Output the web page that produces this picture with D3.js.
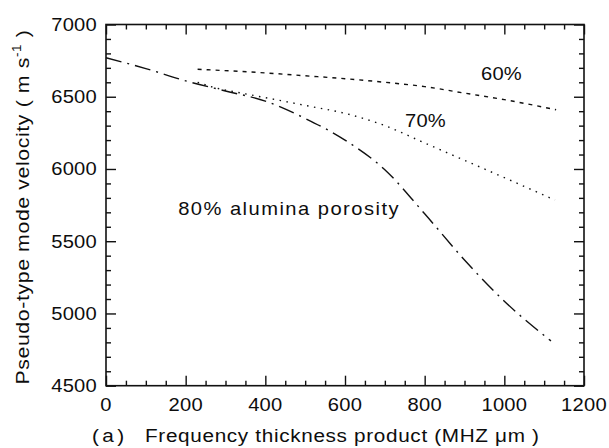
<!DOCTYPE html>
<html>
<head>
<meta charset="utf-8">
<script src="https://cdn.jsdelivr.net/npm/d3@7"></script>
<style>
  html, body { margin: 0; padding: 0; background: #fff; }
  svg text { font-family: "Liberation Sans", Arial, Helvetica, sans-serif; fill: #0d0d0d; }
</style>
</head>
<body>
<svg id="chart" width="609" height="448"></svg>
<script>
// Pseudo-type mode velocity vs frequency-thickness product, three porosities
const xTicks = [0, 200, 400, 600, 800, 1000, 1200];
const yTicks = [4500, 5000, 5500, 6000, 6500, 7000];

const fd60 = [230, 400, 500, 600, 700, 800, 900, 1000, 1130];
const v60  = [6690, 6665, 6645, 6625, 6600, 6570, 6525, 6480, 6410];

const fd70 = [230, 270, 350, 430, 500, 600, 700, 800, 900, 1000, 1127];
const v70  = [6600, 6565, 6520, 6478, 6440, 6385, 6300, 6180, 6060, 5940, 5785];

const fd80 = [0, 100, 200, 300, 400, 500, 600, 700, 800, 900, 1000, 1117];
const v80  = [6770, 6695, 6610, 6540, 6470, 6350, 6200, 5995, 5690, 5370, 5085, 4810];

const seriesLabels = ["60%", "70%", "80% alumina porosity"];

const svg = d3.select("#chart");
const plotL = 106, plotR = 584, plotT = 24.5, plotB = 385.7;

const x = d3.scaleLinear().domain([0, 1200]).range([plotL, plotR]);
const y = d3.scaleLinear().domain([4500, 7000]).range([plotB, plotT]);

const ink = "#111";
const minorX = d3.range(0, 1201, 50).filter(v => v % 200 !== 0);
const minorY = d3.range(4500, 7001, 100).filter(v => v % 500 !== 0);

// Inward-pointing ticks on all four sides
function tickAxis(axisFn, scale, g, major, minor) {
  g.call(axisFn(scale).tickValues(major).tickSize(-10).tickFormat(""));
  g.append("g").call(axisFn(scale).tickValues(minor).tickSize(-5).tickFormat(""));
  g.selectAll(".domain").remove();
  g.selectAll("line").attr("stroke", ink).attr("stroke-width", 1.4);
}
tickAxis(d3.axisBottom, x, svg.append("g").attr("transform", `translate(0,${plotB})`), xTicks, minorX);
tickAxis(d3.axisTop, x, svg.append("g").attr("transform", `translate(0,${plotT})`), xTicks, minorX);
tickAxis(d3.axisLeft, y, svg.append("g").attr("transform", `translate(${plotL},0)`), yTicks, minorY);
tickAxis(d3.axisRight, y, svg.append("g").attr("transform", `translate(${plotR},0)`), yTicks, minorY);

// Frame
svg.append("rect")
  .attr("x", plotL).attr("y", plotT)
  .attr("width", plotR - plotL).attr("height", plotB - plotT)
  .attr("fill", "none").attr("stroke", ink).attr("stroke-width", 1.6);

// Wide-set lettering: horizontally stretched text placed at (px, py)
const SX = 1.12;
function label(parent, px, py, size, spacing, anchor, rot) {
  const r = rot ? ` rotate(${rot})` : "";
  return parent.append("text")
    .attr("transform", `translate(${px},${py})${r} scale(${SX},1)`)
    .attr("font-size", size)
    .attr("letter-spacing", spacing)
    .attr("text-anchor", anchor || "start");
}

// Tick labels
xTicks.forEach(d => label(svg, x(d), 411, 18, 0.2, "middle").text(d));
yTicks.forEach(d => label(svg, 97, y(d) + 6.5, 18, 0.2, "end").text(d));

// Axis titles
const yTitle = label(svg, 29, (plotT + plotB) / 2 + 2, 19, 0.55, "middle", -90);
yTitle.append("tspan").text("Pseudo-type mode velocity ( m s");
yTitle.append("tspan").attr("font-size", 12).attr("dy", -8).text("-1");
yTitle.append("tspan").attr("dy", 8).text(" )");

label(svg, 92, 442, 18.5, 3).text("(a)");
label(svg, 145, 442, 18.5, 0.6).text("Frequency thickness product (MHZ \u03bcm )");

// Curves
const line = d3.line().curve(d3.curveMonotoneX).x(d => x(d[0])).y(d => y(d[1]));
const curves = [
  { fd: fd60, v: v60, dash: "4,5" },
  { fd: fd70, v: v70, dash: "1.5,5.5" },
  { fd: fd80, v: v80, dash: "16,6,2,6" }
];
svg.append("g").selectAll("path").data(curves).join("path")
  .attr("d", c => line(d3.zip(c.fd, c.v)))
  .attr("fill", "none").attr("stroke", ink).attr("stroke-width", 1.4)
  .attr("stroke-dasharray", c => c.dash);

// Curve labels
label(svg, 481, 80, 18, 0.2).text(seriesLabels[0]);
label(svg, 405, 127, 18, 0.2).text(seriesLabels[1]);
label(svg, 400, 215, 18, 1.3, "end").text(seriesLabels[2]);
</script>
</body>
</html>
